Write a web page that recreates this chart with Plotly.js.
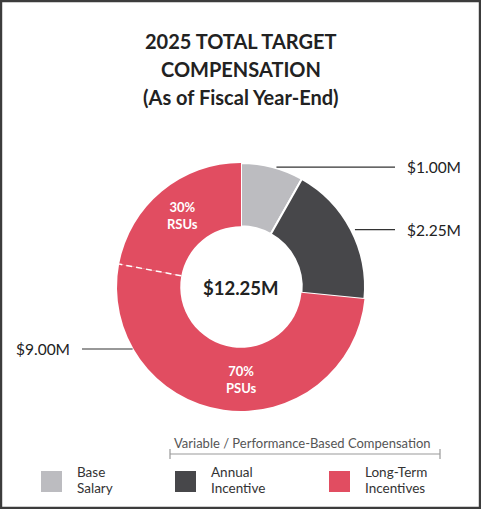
<!DOCTYPE html>
<html>
<head>
<meta charset="utf-8">
<script src="https://cdn.plot.ly/plotly-3.0.1.min.js"></script>
<style>
  html, body { margin: 0; padding: 0; background: #fff; }
  #chart { width: 481px; height: 509px; }
</style>
</head>
<body>
<div id="chart"></div>
<script>
// values
const categories = ['Base Salary', 'Annual Incentive', 'Long-Term Incentives'];
const amounts = [1.00, 2.25, 9.00];            // $M
const ltiParts = ['PSUs', 'RSUs'];
const ltiShares = [70, 30];                    // % of long-term incentives
const legendLines = [['Base', 'Salary'], ['Annual', 'Incentive'], ['Long-Term', 'Incentives']];
const titleLines = ['2025 TOTAL TARGET', 'COMPENSATION', '(As of Fiscal Year-End)'];
const colors = ['#bcbcc0', '#47474a', '#e14d61'];

const W = 481, H = 509;
const cx = 241, cy = 287, R = 124, hole = 0.49;
const FONT = 'Lato, "Open Sans", sans-serif';

const px = x => x / W;
const py = y => 1 - y / H;

const total = amounts.reduce((a, b) => a + b, 0);

// pie slices: base, annual, PSUs, RSUs (clockwise from 12 o'clock)
const sliceLabels = [categories[0], categories[1], ltiParts[0], ltiParts[1]];
const sliceValues = [amounts[0], amounts[1],
  amounts[2] * ltiShares[0] / 100, amounts[2] * ltiShares[1] / 100];
const sliceColors = [colors[0], colors[1], colors[2], colors[2]];

// cumulative angles (degrees clockwise from top)
const starts = [];
let acc = 0;
for (const v of sliceValues) { starts.push(acc / total * 360); acc += v; }
const ends = sliceValues.map((v, i) => starts[i] + v / total * 360);
const mids = starts.map((s, i) => (s + ends[i]) / 2);

function pt(angle, r) {
  const a = angle * Math.PI / 180;
  return [cx + r * Math.sin(a), cy - r * Math.cos(a)];
}

const trace = {
  type: 'pie',
  labels: sliceLabels,
  values: sliceValues,
  sort: false,
  direction: 'clockwise',
  rotation: 0,
  hole: hole,
  textinfo: 'none',
  hoverinfo: 'label+value',
  showlegend: false,
  marker: {
    colors: sliceColors,
    line: { color: '#ffffff', width: [2, 2, 0, 0] }
  },
  domain: { x: [px(cx - R), px(cx + R)], y: [py(cy + R), py(cy - R)] }
};

const shapes = [];
const annotations = [];

// frame
shapes.push({ type: 'rect', xref: 'paper', yref: 'paper', x0: 0.002, x1: 0.998, y0: 0.002, y1: 0.998,
  line: { color: '#3c3c3c', width: 2.5 } });

// title, one line per annotation for the wider line spacing
titleLines.forEach((t, i) => annotations.push({ xref: 'paper', yref: 'paper', x: 0.5, y: py(41 + i * 28),
  xanchor: 'center', yanchor: 'middle', showarrow: false, borderpad: 0,
  text: '<b>' + t + '</b>', font: { family: FONT, size: 20, color: '#222222' } }));

// dashed split between PSUs and RSUs
const dIn = pt(starts[3], R * hole), dOut = pt(starts[3], R);
shapes.push({ type: 'line', xref: 'paper', yref: 'paper',
  x0: px(dIn[0]), y0: py(dIn[1]), x1: px(dOut[0]), y1: py(dOut[1]),
  line: { color: '#ffffff', width: 1.5, dash: '6px,4px' } });

// leader lines + value labels
const fmt = v => '$' + v.toFixed(2) + 'M';
const leaderAngles = [mids[0], mids[1], 240];
const leaderEnds = [395, 395, 82];
amounts.forEach((v, i) => {
  const p = pt(leaderAngles[i], R);
  const right = leaderEnds[i] > cx;
  shapes.push({ type: 'line', xref: 'paper', yref: 'paper',
    x0: px(p[0] + (right ? 4 : -1)), y0: py(p[1]), x1: px(leaderEnds[i]), y1: py(p[1]),
    line: { color: '#333333', width: 1.2 } });
  annotations.push({ xref: 'paper', yref: 'paper', x: px(leaderEnds[i] + (right ? 10 : -10)), y: py(p[1]),
    xanchor: right ? 'left' : 'right', yanchor: 'middle', showarrow: false,
    text: fmt(v), font: { family: FONT, size: 15.5, color: '#222222' } });
});

// inside labels for the LTI split
const insideAngles = { 3: mids[3], 2: 180 };
[[3, 1], [2, 0]].forEach(([slice, k]) => {
  const p = pt(insideAngles[slice], R * (1 + hole) / 2);
  annotations.push({ xref: 'paper', yref: 'paper', x: px(p[0]), y: py(p[1]),
    xanchor: 'center', yanchor: 'middle', showarrow: false,
    text: '<b>' + ltiShares[k] + '%<br>' + ltiParts[k] + '</b>',
    font: { family: FONT, size: 13, color: '#ffffff' } });
});

// center total
annotations.push({ xref: 'paper', yref: 'paper', x: px(cx), y: py(cy + 1),
  xanchor: 'center', yanchor: 'middle', showarrow: false,
  text: '<b>' + fmt(total) + '</b>', font: { family: FONT, size: 18.5, color: '#222222' } });

// bracket over the variable components
shapes.push({ type: 'line', xref: 'paper', yref: 'paper', x0: px(170), x1: px(440), y0: py(454), y1: py(454),
  line: { color: '#999999', width: 1.2 } });
[170, 440].forEach(x => shapes.push({ type: 'line', xref: 'paper', yref: 'paper',
  x0: px(x), x1: px(x), y0: py(449), y1: py(459), line: { color: '#999999', width: 1.2 } }));
annotations.push({ xref: 'paper', yref: 'paper', x: px(302), y: py(443),
  xanchor: 'center', yanchor: 'middle', showarrow: false,
  text: 'Variable / Performance-Based Compensation', font: { family: FONT, size: 13, color: '#555555' } });

// custom legend
const legendX = [41, 175, 329];
categories.forEach((c, i) => {
  shapes.push({ type: 'rect', xref: 'paper', yref: 'paper',
    x0: px(legendX[i]), x1: px(legendX[i] + 21), y0: py(492), y1: py(471),
    fillcolor: colors[i], line: { width: 0 } });
  legendLines[i].forEach((t, j) => annotations.push({ xref: 'paper', yref: 'paper',
    x: px(legendX[i] + 35), y: py(472 + j * 16), xanchor: 'left', yanchor: 'middle', showarrow: false,
    borderpad: 0, text: t, font: { family: FONT, size: 13.5, color: '#333333' } }));
});

const layout = {
  width: W,
  height: H,
  margin: { l: 0, r: 0, t: 0, b: 0 },
  paper_bgcolor: '#ffffff',
  shapes,
  annotations
};

Plotly.newPlot('chart', [trace], layout, { displayModeBar: false });
</script>
</body>
</html>
